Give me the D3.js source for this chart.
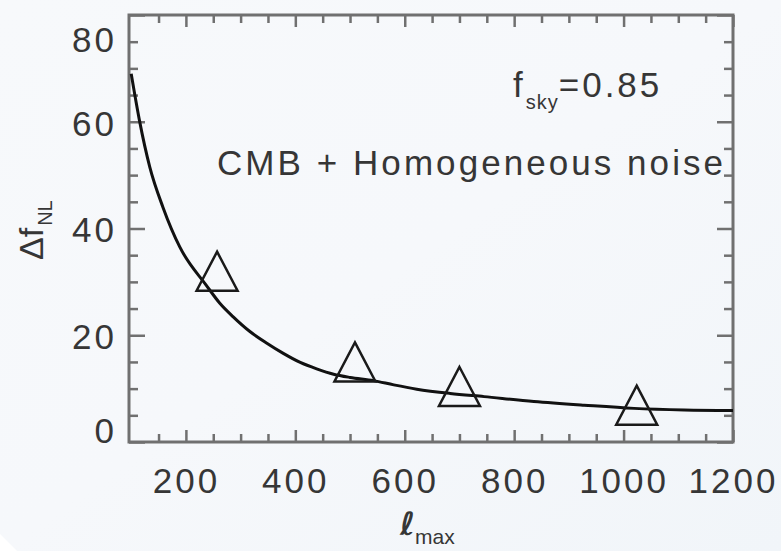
<!DOCTYPE html>
<html>
<head>
<meta charset="utf-8">
<script src="https://cdn.jsdelivr.net/npm/d3@7"></script>
<style>
  html, body { margin: 0; padding: 0; background: #f4f7fa; }
  svg { display: block; }
  text { font-family: "Liberation Sans", Arial, sans-serif; fill: #363636; }
</style>
</head>
<body>
<div id="chart"></div>
<script>
// fitted curve (lmax, delta fNL)
const curveL = [100, 115, 134, 158, 189, 237, 262, 286, 317, 348, 378, 409, 439, 470, 500, 543, 580, 622, 683, 745, 836, 928, 1019, 1111, 1200];
const curveF = [69, 60.3, 51.5, 44, 36.5, 29.4, 26, 23.5, 20.7, 18.5, 16.6, 14.9, 13.7, 12.7, 12.1, 11.5, 10.7, 9.9, 9.1, 8.5, 7.6, 6.9, 6.3, 6.0, 5.9];

// simulation points (triangles)
const pointL = [257, 509, 700, 1024];
const pointF = [32.0, 15.0, 10.4, 6.9];

const xTicks = [200, 400, 600, 800, 1000, 1200];
const xMinor = [150, 250, 300, 350, 450, 500, 550, 650, 700, 750, 850, 900, 950, 1050, 1100, 1150];
const yTicks = [0, 20, 40, 60, 80];
const yMinor = [5, 10, 15, 25, 30, 35, 45, 50, 55, 65, 70, 75];

const width = 781, height = 551;
const margin = { top: 15, right: 48, bottom: 109, left: 129 };
const axisColor = "#707070";

const svg = d3.select("#chart").append("svg")
  .attr("width", width)
  .attr("height", height);

// soft background
const defs = svg.append("defs");
const grad = defs.append("linearGradient")
  .attr("id", "bg").attr("x1", "0").attr("y1", "0").attr("x2", "1").attr("y2", "1");
grad.append("stop").attr("offset", "0").attr("stop-color", "#f7f9fb");
grad.append("stop").attr("offset", "0.5").attr("stop-color", "#f6f8fb");
grad.append("stop").attr("offset", "1").attr("stop-color", "#f1f5f9");
svg.append("rect").attr("width", width).attr("height", height).attr("fill", "url(#bg)");
svg.append("path").attr("d", `M0,${height - 17}L17,${height}L0,${height}Z`).attr("fill", "#ffffff");

const x = d3.scaleLinear().domain([96, 1200]).range([margin.left, width - margin.right]);
const y = d3.scaleLinear().domain([0, 80]).range([height - margin.bottom, margin.top]);

const x0 = x.range()[0], x1 = x.range()[1];
const y0 = y.range()[0], y1 = y.range()[1];

function styleAxis(g) {
  g.select(".domain").remove();
  g.selectAll(".tick line").attr("stroke", axisColor).attr("stroke-width", 2.5);
  g.selectAll(".tick text")
    .attr("font-size", 35)
    .attr("letter-spacing", "3px")
    .attr("fill", "#363636");
}

// left axis with labels
const left = svg.append("g").attr("transform", `translate(${x0},0)`)
  .call(d3.axisLeft(y).tickValues(yTicks).tickSize(-16).tickPadding(12).tickFormat(d3.format("d")))
  .call(styleAxis);
left.selectAll(".tick text")
  .attr("dy", d => d === 80 ? "1.05em" : d === 0 ? "0" : "0.38em");
svg.append("g").attr("transform", `translate(${x0},0)`)
  .call(d3.axisLeft(y).tickValues(yMinor).tickSize(-9).tickFormat(""))
  .call(styleAxis);

// right axis, ticks only
svg.append("g").attr("transform", `translate(${x1},0)`)
  .call(d3.axisRight(y).tickValues(yTicks).tickSize(-16).tickFormat(""))
  .call(styleAxis);
svg.append("g").attr("transform", `translate(${x1},0)`)
  .call(d3.axisRight(y).tickValues(yMinor).tickSize(-9).tickFormat(""))
  .call(styleAxis);

// bottom axis with labels
svg.append("g").attr("transform", `translate(0,${y0})`)
  .call(d3.axisBottom(x).tickValues(xTicks).tickSize(-12).tickPadding(26).tickFormat(d3.format("d")))
  .call(styleAxis);
svg.append("g").attr("transform", `translate(0,${y0})`)
  .call(d3.axisBottom(x).tickValues(xMinor).tickSize(-8).tickFormat(""))
  .call(styleAxis);

// top axis, ticks only
svg.append("g").attr("transform", `translate(0,${y1})`)
  .call(d3.axisTop(x).tickValues(xTicks).tickSize(-12).tickFormat(""))
  .call(styleAxis);
svg.append("g").attr("transform", `translate(0,${y1})`)
  .call(d3.axisTop(x).tickValues(xMinor).tickSize(-8).tickFormat(""))
  .call(styleAxis);

// frame
svg.append("rect")
  .attr("x", x0).attr("y", y1)
  .attr("width", x1 - x0).attr("height", y0 - y1)
  .attr("fill", "none")
  .attr("stroke", axisColor)
  .attr("stroke-width", 3);

// curve
const line = d3.line()
  .x(i => x(curveL[i]))
  .y(i => y(curveF[i]))
  .curve(d3.curveMonotoneX);
svg.append("path")
  .attr("d", line(d3.range(curveL.length)))
  .attr("fill", "none")
  .attr("stroke", "#111")
  .attr("stroke-width", 3);

// triangles
const triW = 41, triH = 39;
svg.selectAll("path.tri")
  .data(d3.range(pointL.length))
  .join("path")
  .attr("class", "tri")
  .attr("d", i => {
    const cx = x(pointL[i]), cy = y(pointF[i]);
    const p = d3.path();
    p.moveTo(cx, cy - triH / 2);
    p.lineTo(cx + triW / 2, cy + triH / 2);
    p.lineTo(cx - triW / 2, cy + triH / 2);
    p.closePath();
    return p.toString();
  })
  .attr("fill", "none")
  .attr("stroke", "#1a1a1a")
  .attr("stroke-width", 2.5);

// annotations
const fsky = svg.append("text")
  .attr("x", 513).attr("y", 97)
  .attr("font-size", 35).attr("letter-spacing", "3px");
fsky.append("tspan").text("f");
fsky.append("tspan").attr("font-size", 20).attr("dy", 12).attr("letter-spacing", "1px").text("sky");
fsky.append("tspan").attr("dy", -12).text("=0.85");

svg.append("text")
  .attr("x", 217).attr("y", 175)
  .attr("font-size", 35)
  .attr("textLength", 506)
  .attr("lengthAdjust", "spacing")
  .text("CMB + Homogeneous noise");

// y label
const ylab = svg.append("text")
  .attr("transform", "translate(43,260) rotate(-90)")
  .attr("font-size", 34);
ylab.append("tspan").text("\u0394f");
ylab.append("tspan").attr("font-size", 20).attr("dy", 9).attr("dx", 2).text("NL");

// x label
const xlab = svg.append("text")
  .attr("x", 400).attr("y", 535)
  .attr("font-size", 32);
xlab.append("tspan").attr("font-family", "DejaVu Sans").attr("font-weight", "bold").attr("font-style", "italic").text("\u2113");
xlab.append("tspan").attr("font-size", 21).attr("dy", 9).text("max");
</script>
</body>
</html>
